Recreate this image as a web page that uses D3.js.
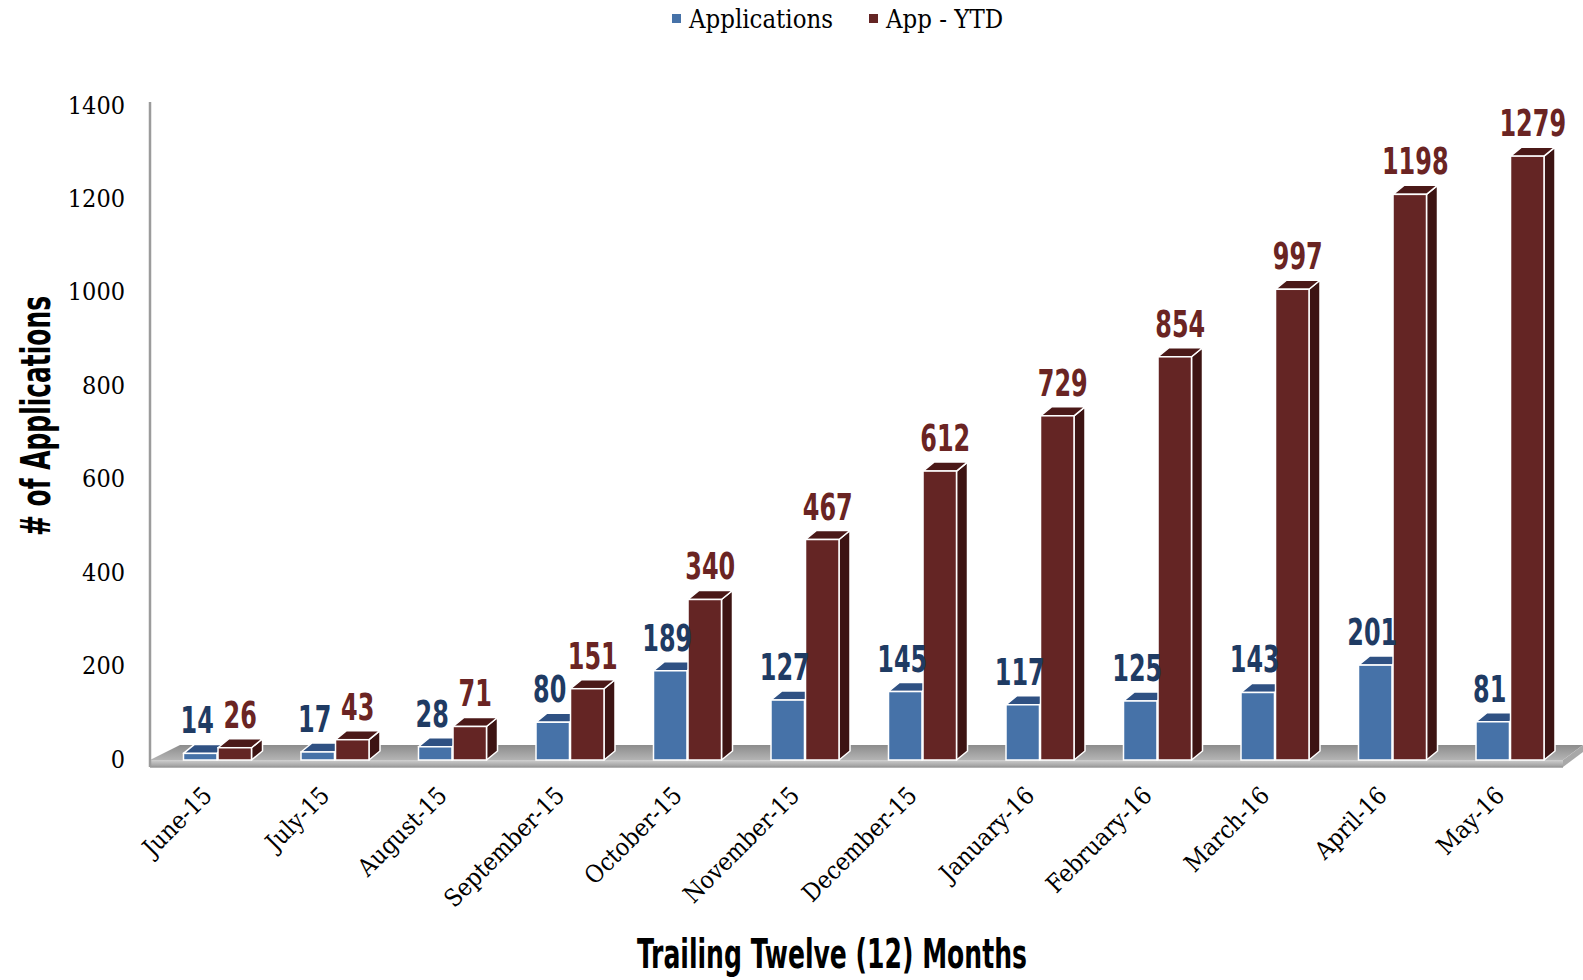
<!DOCTYPE html>
<html><head><meta charset="utf-8">
<script src="https://cdn.jsdelivr.net/npm/d3@7"></script>
<style>
html,body{margin:0;padding:0;background:#fff;}
svg{display:block;}
</style></head>
<body>
<svg id="chart" width="1583" height="980"></svg>
<script>
const months = ["June-15","July-15","August-15","September-15","October-15","November-15","December-15","January-16","February-16","March-16","April-16","May-16"];
const applications = [14,17,28,80,189,127,145,117,125,143,201,81];
const appYTD = [26,43,71,151,340,467,612,729,854,997,1198,1279];
const seriesNames = ["Applications","App - YTD"];
const yTicks = [0,200,400,600,800,1000,1200,1400];

const svg = d3.select("#chart");
const base = 760, dx = 11, dy = 9;
const colors = {
  "Applications": {front:"#4672a8", top:"#2f5183", side:"#2a4770", label:"#1f3b63"},
  "App - YTD": {front:"#642524", top:"#4b1918", side:"#3d1413", label:"#6a2423"}
};

const x0 = d3.scaleBand().domain(months).range([158.75, 1568.75]).paddingInner(0).paddingOuter(0);
const bw = x0.bandwidth();
const x1 = d3.scaleBand().domain(seriesNames).range([bw/2 - 34, bw/2 + 34]).paddingInner(0.03);
const y = d3.scaleLinear().domain([0,1400]).range([base, 99]);
const yAxisScale = d3.scaleLinear().domain([0,1400]).range([758, 104]);

// floor
const defs = svg.append("defs");
const g1 = defs.append("linearGradient").attr("id","floorTop").attr("x1",0).attr("y1",0).attr("x2",0).attr("y2",1);
g1.append("stop").attr("offset","0%").attr("stop-color","#8c8c8c");
g1.append("stop").attr("offset","100%").attr("stop-color","#b4b4b4");
const g2 = defs.append("linearGradient").attr("id","floorFront").attr("x1",0).attr("y1",0).attr("x2",0).attr("y2",1);
g2.append("stop").attr("offset","0%").attr("stop-color","#d0d0d0");
g2.append("stop").attr("offset","100%").attr("stop-color","#9a9a9a");

svg.append("polygon").attr("points","180,745 1583,745 1563,760 150,760").attr("fill","url(#floorTop)");
svg.append("polygon").attr("points","150,760 1563,760 1563,767 150,767").attr("fill","url(#floorFront)");
svg.append("polygon").attr("points","1563,760 1583,745 1583,752 1563,767").attr("fill","#a8a8a8");
svg.append("line").attr("x1",150).attr("x2",1563).attr("y1",767).attr("y2",767).attr("stroke","#9a9a9a").attr("stroke-width",1.5);

// y axis line
svg.append("line").attr("x1",150).attr("x2",150).attr("y1",102).attr("y2",767).attr("stroke","#9b9b9b").attr("stroke-width",2.5);

// y tick labels via axis
const yAxis = d3.axisLeft(yAxisScale).tickValues(yTicks).tickSize(0).tickPadding(0).tickFormat(d3.format("d"));
const ya = svg.append("g").attr("transform","translate(125,0)").call(yAxis);
ya.select(".domain").remove();
ya.selectAll("text").attr("font-family","'DejaVu Serif Condensed','DejaVu Serif',serif").attr("font-size",25).attr("fill","#000").attr("dy","0.36em");

// bars
const data = months.map((m,i)=>({month:m, vals:[{s:"Applications", v:applications[i]},{s:"App - YTD", v:appYTD[i]}]}));
const groups = svg.append("g").selectAll("g").data(data).join("g").attr("transform", d=>`translate(${x0(d.month)},0)`);
groups.each(function(d){
  const g = d3.select(this);
  d.vals.forEach(b=>{
    const xl = x1(b.s), w = x1.bandwidth(), yt = y(b.v), c = colors[b.s];
    g.append("polygon").attr("points",`${xl+w},${yt} ${xl+w+dx},${yt-dy} ${xl+w+dx},${base-dy} ${xl+w},${base}`)
      .attr("fill",c.side).attr("stroke","#fff").attr("stroke-width",1.5).attr("stroke-linejoin","round");
    g.append("polygon").attr("points",`${xl},${yt} ${xl+dx},${yt-dy} ${xl+w+dx},${yt-dy} ${xl+w},${yt}`)
      .attr("fill",c.top).attr("stroke","#fff").attr("stroke-width",1.5).attr("stroke-linejoin","round");
    g.append("rect").attr("x",xl).attr("y",yt).attr("width",w).attr("height",base-yt)
      .attr("fill",c.front).attr("stroke","#fff").attr("stroke-width",1.5);
  });
});
// data labels
groups.each(function(d){
  const g = d3.select(this);
  d.vals.forEach(b=>{
    const w = x1.bandwidth(), c = colors[b.s];
    const cx = b.s === "Applications" ? x1(b.s) + w/2 - 3 : x1(b.s) + w/2 + dx/2;
    g.append("text").attr("transform",`translate(${cx},${y(b.v)-20}) scale(0.7,1)`)
      .attr("text-anchor","middle").attr("font-family","'Liberation Sans Narrow','DejaVu Sans Condensed',sans-serif")
      .attr("font-weight","bold").attr("font-size",38).attr("fill",c.label).text(b.v);
  });
});

// x labels
svg.append("g").selectAll("text").data(months).join("text")
  .attr("transform", d=>`translate(${x0(d)+bw/2-4},797) rotate(-45)`)
  .attr("text-anchor","end").attr("font-family","'DejaVu Serif Condensed','DejaVu Serif',serif")
  .attr("font-size",24.5).attr("fill","#000").text(d=>d);

// axis titles
svg.append("text").attr("x",832).attr("y",968).attr("text-anchor","middle")
  .attr("font-family","'Liberation Sans Narrow','DejaVu Sans Condensed',sans-serif").attr("font-weight","bold")
  .attr("font-size",41).attr("textLength",390).attr("lengthAdjust","spacingAndGlyphs").attr("fill","#000")
  .text("Trailing Twelve (12) Months");
svg.append("text").attr("transform","translate(50,416) rotate(-90)").attr("text-anchor","middle")
  .attr("font-family","'Liberation Sans Narrow','DejaVu Sans Condensed',sans-serif").attr("font-weight","bold")
  .attr("font-size",40).attr("textLength",240).attr("lengthAdjust","spacingAndGlyphs").attr("fill","#000")
  .text("# of Applications");

// legend
const legendX = [672, 869];
const lg = svg.append("g").selectAll("g").data(seriesNames).join("g").attr("transform",(d,i)=>`translate(${legendX[i]},0)`);
lg.append("rect").attr("x",0).attr("y",14).attr("width",9).attr("height",9).attr("fill",d=>colors[d].front);
lg.append("text").attr("x",17).attr("y",28).attr("font-family","'DejaVu Serif Condensed','DejaVu Serif',serif")
  .attr("font-size",25.5).attr("fill","#000").text(d=>d);
</script>
</body></html>
